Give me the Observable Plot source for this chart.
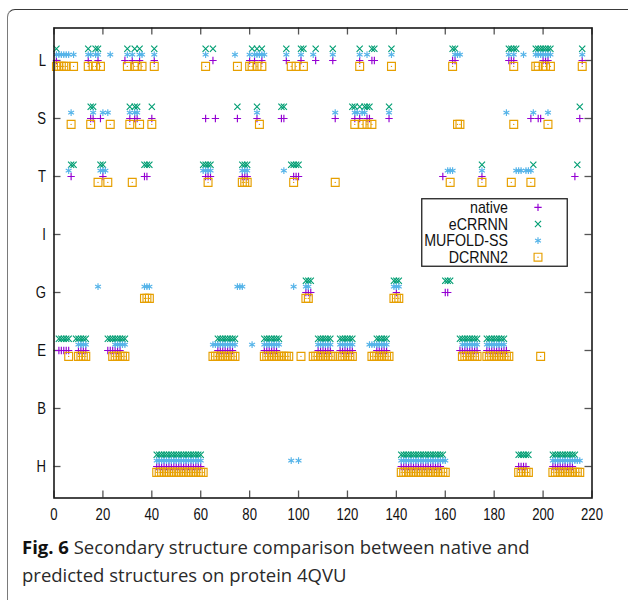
<!DOCTYPE html>
<html>
<head>
<meta charset="utf-8">
<script src="https://cdn.jsdelivr.net/npm/d3@7"></script>
<script src="https://cdn.jsdelivr.net/npm/@observablehq/plot@0.6"></script>
<style>
  html, body { margin: 0; padding: 0; background: #fff; }
  body { width: 628px; height: 600px; position: relative; overflow: hidden; }
  #outer { position: absolute; left: 7px; top: 9px; width: 700px; height: 700px;
           border-left: 1.5px solid #7a7a7a; border-top: 1.5px solid #3a3a3a; border-top-left-radius: 8px; }
  #chart { position: absolute; left: 0; top: 0; }
  #caption { position: absolute; left: 22px; top: 533px; font-family: "Open Sans", "Noto Sans", sans-serif;
             font-size: 18.5px; line-height: 27.5px; color: #2a2a2a; white-space: nowrap; }
  #caption b { font-weight: 700; color: #111; }
</style>
</head>
<body>
<div id="outer"></div>
<div id="chart"></div>
<div id="caption"><b>Fig. 6</b> Secondary structure comparison between native and<br>predicted structures on protein 4QVU</div>
<script>
// ---------- data ----------
const classes = ["L", "S", "T", "I", "G", "E", "B", "H"];
const xTicks = [0, 20, 40, 60, 80, 100, 120, 140, 160, 180, 200, 220];
const seriesNames = ["native", "eCRRNN", "MUFOLD-SS", "DCRNN2"];

// residue indices per secondary-structure class
const native = {
  L: [1, 14, 18, 29, 32, 35, 41, 65, 80, 82, 85, 95, 101, 107, 114, 125, 130, 131, 163, 164, 186, 187, 188, 200, 201, 202, 216],
  S: [15, 16, 19, 31, 33, 34, 40, 62, 66, 75, 83, 93, 94, 115, 123, 125, 128, 129, 137, 195, 198, 199, 215],
  T: [7, 20, 37, 38, 62, 63, 64, 77, 78, 79, 98, 99, 100, 159, 175, 213],
  G: [103, 104, 105, 140, 160, 161],
  E: [2, 3, 4, 5, 6, 10, 11, 12, 13, 22, 23, 24, 25, 26, 27, 67, 68, 69, 70, 71, 72, 73,
      86, 87, 88, 89, 90, 91, 108, 109, 110, 111, 112, 113, 117, 118, 119, 120, 121, 122,
      132, 133, 134, 135, 136, 166, 167, 168, 169, 170, 171, 172, 173,
      177, 178, 179, 180, 181, 182, 183, 184, 185],
  H: [42, 43, 44, 45, 46, 47, 48, 49, 50, 51, 52, 53, 54, 55, 56, 57, 58, 59, 60,
      142, 143, 144, 145, 146, 147, 148, 149, 150, 151, 152, 153, 154, 155, 156, 157, 158,
      190, 191, 192, 193, 204, 205, 206, 207, 208, 209, 210, 211, 212]
};
const eCRRNN = {
  L: [1, 14, 17, 18, 30, 33, 35, 41, 62, 65, 81, 83, 85, 95, 101, 102, 107, 114, 125, 130, 131, 138, 163, 164,
      186, 187, 188, 189, 197, 198, 199, 200, 201, 202, 203, 216],
  S: [15, 16, 31, 33, 34, 40, 75, 83, 93, 94, 122, 123, 125, 127, 128, 129, 137, 215],
  T: [7, 8, 19, 20, 37, 38, 39, 61, 62, 63, 64, 77, 78, 79, 97, 98, 99, 100, 175, 196, 214],
  G: [103, 104, 105, 139, 140, 141, 160, 161, 162],
  E: [2, 3, 4, 5, 6, 9, 10, 11, 12, 13, 22, 23, 24, 25, 26, 27, 28, 29, 67, 68, 69, 70, 71, 72, 73, 74,
      86, 87, 88, 89, 90, 91, 92, 108, 109, 110, 111, 112, 113, 117, 118, 119, 120, 121, 122,
      132, 133, 134, 135, 136, 166, 167, 168, 169, 170, 171, 172, 173,
      177, 178, 179, 180, 181, 182, 183, 184],
  H: [42, 43, 44, 45, 46, 47, 48, 49, 50, 51, 52, 53, 54, 55, 56, 57, 58, 59, 60,
      142, 143, 144, 145, 146, 147, 148, 149, 150, 151, 152, 153, 154, 155, 156, 157, 158, 159,
      190, 191, 192, 193, 194, 204, 205, 206, 207, 208, 209, 210, 211, 212, 213]
};
const mufold = {
  L: [1, 2, 3, 4, 5, 6, 8, 14, 15, 17, 18, 23, 30, 32, 35, 36, 41, 62, 74, 80, 82, 83, 84, 85, 86, 95, 101, 106, 114,
      125, 128, 138, 164, 165, 166, 186, 188, 192, 197, 198, 199, 200, 201, 202, 203, 216],
  S: [7, 16, 20, 22, 31, 33, 34, 83, 115, 123, 124, 126, 127, 137, 185, 196, 202],
  T: [6, 19, 20, 21, 61, 62, 63, 64, 77, 78, 79, 94, 161, 162, 163, 175, 189, 190, 191, 193, 194, 195],
  G: [18, 37, 38, 39, 75, 76, 77, 98, 103, 104, 139, 140, 141],
  E: [10, 11, 12, 13, 25, 26, 27, 28, 29, 65, 66, 67, 68, 69, 70, 71, 72, 73, 74, 81,
      86, 87, 88, 89, 90, 91, 92, 108, 109, 110, 111, 112, 113, 117, 118, 119, 120, 121, 122,
      129, 130, 131, 132, 133, 134, 135, 136, 167, 168, 169, 170, 171, 172, 173,
      177, 178, 179, 180, 181, 182, 183, 184],
  H: [42, 43, 44, 45, 46, 47, 48, 49, 50, 51, 52, 53, 54, 55, 56, 57, 58, 59, 60, 97, 100,
      142, 143, 144, 145, 146, 147, 148, 149, 150, 151, 152, 153, 154, 155, 156, 157, 158, 159, 160,
      204, 205, 206, 207, 208, 209, 210, 211, 212, 213, 214, 215]
};
const dcrnn2 = {
  L: [1, 2, 3, 4, 5, 8, 14, 16, 17, 19, 30, 33, 34, 36, 41, 62, 75, 80, 81, 83, 85, 97, 99, 102,
      125, 138, 163, 188, 197, 198, 200, 201, 203, 216],
  S: [7, 15, 23, 31, 35, 40, 84, 123, 126, 128, 130, 165, 166, 188, 202],
  T: [18, 22, 32, 63, 77, 78, 79, 98, 115, 162, 175, 187, 195],
  G: [37, 38, 39, 103, 104, 139, 140, 141],
  E: [6, 10, 11, 12, 13, 24, 25, 26, 27, 28, 29, 65, 66, 67, 68, 69, 70, 71, 72, 73, 74,
      86, 87, 88, 89, 90, 91, 92, 93, 94, 95, 96, 101, 106, 107, 108, 109, 110, 111, 112, 113, 114,
      117, 118, 119, 120, 121, 122, 130, 131, 132, 133, 134, 135, 136, 137,
      167, 168, 169, 170, 171, 172, 173, 177, 178, 179, 180, 181, 182, 183, 184, 185, 186, 199],
  H: [42, 43, 44, 45, 46, 47, 48, 49, 50, 51, 52, 53, 54, 55, 56, 57, 58, 59, 60, 61,
      142, 143, 144, 145, 146, 147, 148, 149, 150, 151, 152, 153, 154, 155, 156, 157, 158, 159, 160,
      190, 191, 192, 193, 194, 204, 205, 206, 207, 208, 209, 210, 211, 212, 213, 214, 215]
};

// ---------- styles ----------
const seriesData = [native, eCRRNN, mufold, dcrnn2];
const styles = [
  {symbol: "plus",     d3sym: d3.symbolPlus,     r: 2.5, color: "#9400d3", dy: 0},
  {symbol: "times",    d3sym: d3.symbolTimes,    r: 2.9, color: "#009e73", dy: -11.75},
  {symbol: "asterisk", d3sym: d3.symbolAsterisk, r: 3.2, color: "#56b4e9", dy: -5.875},
  {symbol: "square2",  d3sym: d3.symbolSquare2,  r: 5.0, color: "#e69f00", dy: 5.875}
];
const markerStroke = 1.15;

function rowsOf(obj, name) {
  const out = [];
  for (const c of classes) for (const r of (obj[c] || [])) out.push({series: name, cls: c, residue: r});
  return out;
}

const W = 628, H = 530;
const mL = 53.5, mR = 36.5, mT = 27.5, mB = 32.5;
const PW = W - mL - mR, PH = H - mT - mB;
const tickLen = 7;

const dotMarks = [];
seriesData.forEach((s, i) => {
  const st = styles[i];
  const rows = rowsOf(s, seriesNames[i]);
  dotMarks.push(Plot.dot(rows, {x: "residue", y: "cls", symbol: st.symbol, r: st.r,
    stroke: st.color, fill: "none", strokeWidth: markerStroke, dy: st.dy}));
  if (st.symbol === "square2") {
    dotMarks.push(Plot.dot(rows, {x: "residue", y: "cls", r: 0.7, fill: st.color, stroke: "none", dy: st.dy}));
  }
});

const svg = Plot.plot({
  width: W, height: H,
  marginLeft: mL, marginRight: mR, marginTop: mT, marginBottom: mB,
  x: {domain: [0, 220]},
  y: {type: "point", domain: classes, padding: 0.5},
  style: {fontFamily: "'Liberation Sans', Arial, sans-serif", fontSize: "16px", color: "#111", background: "transparent", overflow: "visible"},
  marks: [
    Plot.tickX(xTicks, {x: d => d, insetTop: PH - tickLen, stroke: "#555", strokeWidth: 1.3}),
    Plot.tickX(xTicks, {x: d => d, insetBottom: PH - tickLen, stroke: "#555", strokeWidth: 1.3}),
    Plot.tickY(classes, {y: d => d, insetRight: PW - tickLen, stroke: "#555", strokeWidth: 1.3}),
    Plot.tickY(classes, {y: d => d, insetLeft: PW - tickLen, stroke: "#555", strokeWidth: 1.3}),
    Plot.axisX({ticks: xTicks, tickSize: 0, tickPadding: 11, label: null, tickFormat: d => String(d)}),
    Plot.axisY({tickSize: 0, tickPadding: 8, label: null}),
    ...dotMarks,
    Plot.frame({stroke: "#1a1a1a", strokeWidth: 1.6})
  ]
});

// narrow the axis labels like the gnuplot rendering
d3.select(svg).selectAll('g[aria-label="x-axis tick label"] text, g[aria-label="y-axis tick label"] text').each(function () {
  const t = this.getAttribute("transform");
  if (t) {
    this.setAttribute("transform", t + " scale(0.82,1)");
  } else {
    const x = +this.getAttribute("x") || 0, y = +this.getAttribute("y") || 0;
    this.removeAttribute("x"); this.removeAttribute("y");
    this.setAttribute("transform", `translate(${x},${y}) scale(0.82,1)`);
  }
});

const chart = document.getElementById("chart");
chart.appendChild(svg);

// legend (inside the plot area, gnuplot style)
const leg = d3.create("svg").attr("width", 148).attr("height", 70)
  .style("position", "absolute").style("left", "421px").style("top", "197.5px");
leg.append("rect").attr("x", 0.75).attr("y", 0.75).attr("width", 145.5).attr("height", 67.5)
  .attr("fill", "#fff").attr("stroke", "#222").attr("stroke-width", 1.3);
seriesNames.forEach((name, i) => {
  const st = styles[i];
  const cy = 9.4 + i * 16.6;
  leg.append("text")
    .attr("transform", `translate(87,${cy}) scale(0.89,1)`)
    .attr("text-anchor", "end").attr("dy", "0.36em")
    .attr("font-family", "'Liberation Sans', Arial, sans-serif").attr("font-size", 16).attr("fill", "#111")
    .text(name);
  leg.append("path").attr("transform", `translate(117,${cy})`)
    .attr("d", d3.symbol(st.d3sym, st.r * st.r * Math.PI)())
    .attr("fill", "none").attr("stroke", st.color).attr("stroke-width", markerStroke);
  if (st.symbol === "square2") {
    leg.append("circle").attr("cx", 117).attr("cy", cy).attr("r", 0.7).attr("fill", st.color);
  }
});
chart.appendChild(leg.node());
</script>
</body>
</html>
